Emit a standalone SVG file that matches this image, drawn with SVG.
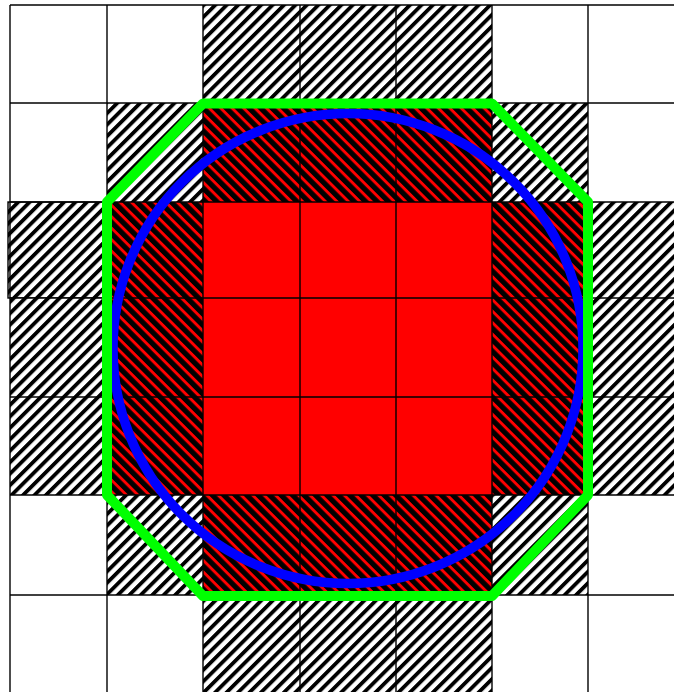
<svg xmlns="http://www.w3.org/2000/svg" width="674" height="692" viewBox="0 0 674 692">
<defs>
<style>
.w{fill:#fff}
.hw{fill:url(#hatchW)}
.hr{fill:url(#hatchR)}
.rd{fill:#ff0000}
.grid line{stroke:#000;stroke-width:1.4}
.cb{fill:none;stroke:#000;stroke-width:1.4}
</style>
<pattern id="hatchW" patternUnits="userSpaceOnUse" width="8.1" height="20" patternTransform="rotate(45)">
<rect width="8.1" height="20" fill="#fff"/>
<rect width="3.8" height="20" fill="#000"/>
</pattern>
<pattern id="hatchR" patternUnits="userSpaceOnUse" width="8.1" height="20" patternTransform="rotate(-45)">
<rect width="8.1" height="20" fill="#ff0000"/>
<rect width="5.2" height="20" fill="#000"/>
</pattern>
</defs>
<rect x="0" y="0" width="674" height="692" fill="#fff"/>
<g id="cells">
<rect class="hw" x="203" y="5" width="289" height="98"/>
<rect class="hw" x="203" y="595" width="289" height="97"/>
<rect class="hw" x="8" y="202" width="99" height="96"/>
<rect class="cb" x="8" y="202" width="99" height="96"/>
<rect class="hw" x="10" y="298" width="97" height="197"/>
<rect class="hw" x="588" y="202" width="86" height="293"/>
<rect class="hw" x="107" y="103" width="96" height="99"/>
<rect class="hw" x="492" y="103" width="96" height="99"/>
<rect class="hw" x="107" y="495" width="96" height="100"/>
<rect class="hw" x="492" y="495" width="96" height="100"/>
<rect class="hr" x="203" y="103" width="289" height="99"/>
<rect class="hr" x="203" y="495" width="289" height="100"/>
<rect class="hr" x="107" y="202" width="96" height="293"/>
<rect class="hr" x="492" y="202" width="96" height="293"/>
<rect class="rd" x="203" y="202" width="289" height="293"/>
</g>
<g id="grid" class="grid">
<line x1="10" y1="5" x2="10" y2="692"/>
<line x1="107" y1="5" x2="107" y2="692"/>
<line x1="203" y1="5" x2="203" y2="692"/>
<line x1="300" y1="5" x2="300" y2="692"/>
<line x1="396" y1="5" x2="396" y2="692"/>
<line x1="492" y1="5" x2="492" y2="692"/>
<line x1="588" y1="5" x2="588" y2="692"/>
<line x1="10" y1="5" x2="674" y2="5"/>
<line x1="10" y1="103" x2="674" y2="103"/>
<line x1="10" y1="202" x2="674" y2="202"/>
<line x1="10" y1="298" x2="674" y2="298"/>
<line x1="10" y1="397" x2="674" y2="397"/>
<line x1="10" y1="495" x2="674" y2="495"/>
<line x1="10" y1="595" x2="674" y2="595"/>
</g>
<g id="circle">
<circle cx="348" cy="348.5" r="235" fill="none" stroke="#0000ff" stroke-width="9.5"/>
</g>
<g id="octagon">
<polygon points="203,103.5 492,103.5 588,202 588,495 492,596 203,596 107,495 107,202" fill="none" stroke="#00ff00" stroke-width="10" stroke-linejoin="round"/>
</g>
</svg>
